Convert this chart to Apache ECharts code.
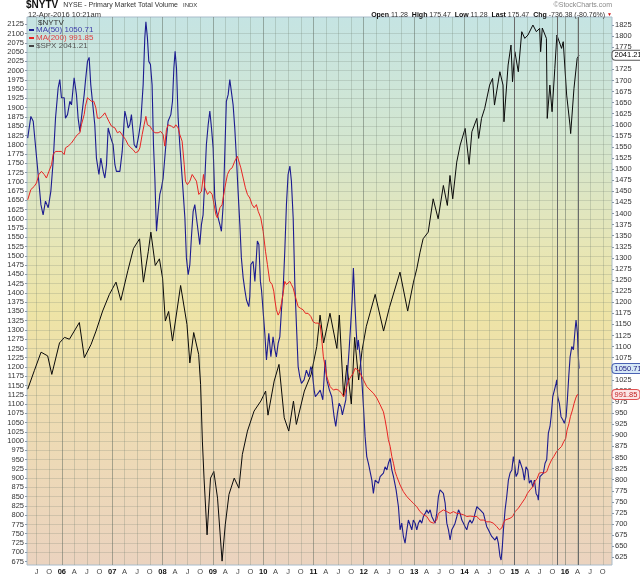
<!DOCTYPE html>
<html><head><meta charset="utf-8">
<script src="https://cdn.jsdelivr.net/npm/echarts@6/dist/echarts.min.js"></script>
<style>html,body{margin:0;padding:0;background:#fff}#c{width:640px;height:576px}</style>
</head><body><div id="c"></div>
<script>
// ---------- DATA ----------
const xMin = '2005-04-23';
const xMax = '2016-12-07';

const xTickDates = ['2005-07-01','2005-10-01',
 '2006-01-01','2006-04-01','2006-07-01','2006-10-01',
 '2007-01-01','2007-04-01','2007-07-01','2007-10-01',
 '2008-01-01','2008-04-01','2008-07-01','2008-10-01',
 '2009-01-01','2009-04-01','2009-07-01','2009-10-01',
 '2010-01-01','2010-04-01','2010-07-01','2010-10-01',
 '2011-01-01','2011-04-01','2011-07-01','2011-10-01',
 '2012-01-01','2012-04-01','2012-07-01','2012-10-01',
 '2013-01-01','2013-04-01','2013-07-01','2013-10-01',
 '2014-01-01','2014-04-01','2014-07-01','2014-10-01',
 '2015-01-01','2015-04-01','2015-07-01','2015-10-01',
 '2016-01-01','2016-04-01','2016-07-01','2016-10-01'];
const xTickLabels = ['J','O',
 '06','A','J','O','07','A','J','O','08','A','J','O','09','A','J','O',
 '10','A','J','O','11','A','J','O','12','A','J','O','13','A','J','O',
 '14','A','J','O','15','A','J','O','16','A','J','O'];

const eventLineDates = ['2014-12-31','2015-11-05','2016-04-06'];

const leftLabelRange = [675, 2125];   // $SPX scale
const rightLabelRange = [625, 1825];  // $NYTV MA scale

const spxData = [
['2005-04-28',1140],['2005-06-15',1190],['2005-08-03',1240],['2005-09-20',1230],['2005-10-20',1180],
['2005-12-15',1265],['2006-01-20',1280],['2006-02-25',1275],['2006-04-01',1297],['2006-05-08',1320],
['2006-06-13',1225],['2006-08-01',1261],['2006-09-06',1297],['2006-10-24',1351],['2006-12-12',1396],
['2007-01-29',1429],['2007-03-05',1380],['2007-04-25',1460],['2007-06-05',1520],['2007-07-19',1546],
['2007-08-16',1429],['2007-09-20',1511],['2007-10-09',1564],['2007-11-10',1474],['2007-12-10',1492],
['2008-01-02',1440],['2008-01-22',1324],['2008-02-15',1350],['2008-03-14',1270],['2008-05-12',1420],
['2008-06-27',1315],['2008-07-18',1211],['2008-08-15',1293],['2008-09-20',1234],['2008-10-04',1153],
['2008-10-17',1000],['2008-10-29',900],['2008-11-20',747],['2008-12-15',900],['2009-01-08',918],
['2009-02-04',846],['2009-03-09',676],['2009-04-01',774],['2009-04-28',856],['2009-06-05',900],
['2009-07-09',873],['2009-08-03',964],['2009-09-09',1027],['2009-10-27',1081],['2009-12-15',1108],
['2010-01-19',1135],['2010-02-05',1070],['2010-03-22',1162],['2010-04-26',1207],['2010-06-03',1063],
['2010-07-06',1027],['2010-08-09',1108],['2010-08-30',1045],['2010-10-27',1135],['2010-12-15',1180],
['2011-01-25',1255],['2011-02-18',1340],['2011-03-16',1265],['2011-05-01',1345],['2011-06-20',1250],
['2011-07-08',1340],['2011-08-08',1120],['2011-09-01',1205],['2011-10-03',1100],['2011-10-27',1280],
['2011-11-25',1165],['2011-12-20',1245],['2012-01-20',1310],['2012-03-24',1396],['2012-05-24',1297],
['2012-07-05',1360],['2012-09-20',1456],['2012-11-15',1351],['2012-12-27',1429],['2013-01-20',1465],
['2013-02-13',1510],['2013-03-07',1546],['2013-04-13',1564],['2013-05-19',1654],['2013-06-24',1600],
['2013-08-01',1690],['2013-08-30',1636],['2013-09-18',1717],['2013-10-08',1654],['2013-11-06',1753],
['2013-12-01',1799],['2014-01-06',1844],['2014-02-04',1747],['2014-02-24',1835],['2014-04-01',1871],
['2014-04-14',1817],['2014-05-05',1871],['2014-05-28',1898],['2014-07-03',1961],['2014-07-24',1979],
['2014-08-07',1907],['2014-09-15',1997],['2014-10-08',1961],['2014-10-15',1862],['2014-11-14',2015],
['2014-12-05',2069],['2014-12-16',1970],['2015-01-02',2051],['2015-01-27',1997],['2015-02-21',2105],
['2015-03-15',2087],['2015-04-07',2096],['2015-05-13',2123],['2015-06-07',2105],['2015-07-01',2114],
['2015-07-08',2051],['2015-07-20',2115],['2015-08-19',2087],['2015-08-25',1871],['2015-09-13',1961],
['2015-09-29',1889],['2015-10-19',2006],['2015-11-03',2096],['2015-12-07',2060],['2015-12-19',2078],
['2016-01-13',1934],['2016-02-06',1853],['2016-02-11',1830],['2016-03-06',1952],['2016-03-29',2033],
['2016-04-12',2041.21]];

const ma50Data = [
['2005-04-28',1570],['2005-05-21',1619],['2005-06-07',1608],['2005-06-23',1555],['2005-07-13',1488],
['2005-08-02',1420],['2005-08-18',1397],['2005-09-04',1428],['2005-09-24',1413],['2005-10-13',1450],
['2005-10-30',1518],['2005-11-16',1615],['2005-12-05',1683],['2005-12-17',1702],['2005-12-29',1661],
['2006-01-18',1661],['2006-01-27',1615],['2006-02-11',1623],['2006-02-28',1653],['2006-03-12',1645],
['2006-03-31',1706],['2006-04-17',1668],['2006-04-29',1615],['2006-05-12',1585],['2006-05-23',1615],
['2006-06-12',1668],['2006-06-21',1698],['2006-07-06',1743],['2006-07-18',1752],['2006-07-30',1690],
['2006-08-11',1690],['2006-08-28',1600],['2006-09-09',1525],['2006-09-27',1488],['2006-10-11',1525],
['2006-10-28',1495],['2006-11-09',1480],['2006-11-21',1510],['2006-12-03',1593],['2006-12-23',1570],
['2007-01-08',1555],['2007-01-21',1510],['2007-02-01',1495],['2007-02-26',1495],['2007-03-15',1540],
['2007-04-03',1631],['2007-04-15',1615],['2007-04-27',1593],['2007-05-09',1600],['2007-05-21',1623],
['2007-06-10',1555],['2007-06-26',1548],['2007-07-14',1578],['2007-07-28',1608],['2007-08-14',1690],
['2007-08-26',1796],['2007-09-03',1832],['2007-09-14',1796],['2007-09-24',1743],['2007-10-06',1736],
['2007-10-18',1690],['2007-10-28',1555],['2007-11-07',1480],['2007-11-14',1405],['2007-11-19',1360],
['2007-12-01',1405],['2007-12-13',1443],['2007-12-25',1458],['2008-01-06',1480],['2008-01-18',1525],
['2008-01-30',1570],['2008-02-11',1608],['2008-03-02',1623],['2008-03-14',1653],['2008-03-24',1728],
['2008-04-02',1766],['2008-04-12',1728],['2008-04-24',1615],['2008-05-06',1555],['2008-05-18',1503],
['2008-05-30',1450],['2008-06-12',1390],['2008-06-23',1300],['2008-07-06',1262],['2008-07-18',1285],
['2008-07-29',1345],['2008-08-11',1405],['2008-08-23',1420],['2008-09-04',1390],['2008-09-16',1360],
['2008-09-28',1330],['2008-10-10',1375],['2008-10-22',1397],['2008-11-04',1480],['2008-11-15',1555],
['2008-11-28',1600],['2008-12-10',1631],['2008-12-22',1593],['2009-01-03',1548],['2009-01-15',1435],
['2009-01-27',1405],['2009-02-08',1405],['2009-02-21',1375],['2009-03-04',1360],['2009-03-17',1420],
['2009-03-29',1540],['2009-04-09',1653],['2009-04-22',1668],['2009-05-04',1702],['2009-05-16',1698],
['2009-05-28',1645],['2009-06-09',1593],['2009-06-21',1525],['2009-07-03',1450],['2009-07-16',1375],
['2009-07-27',1300],['2009-08-09',1255],['2009-08-21',1228],['2009-09-02',1205],['2009-09-19',1190],
['2009-09-26',1213],['2009-10-04',1285],['2009-10-20',1292],['2009-11-02',1247],['2009-11-20',1338],
['2009-12-01',1330],['2009-12-12',1247],['2009-12-20',1228],['2010-01-13',1130],['2010-01-25',1070],
['2010-02-11',1130],['2010-02-26',1077],['2010-03-14',1122],['2010-03-27',1093],['2010-04-07',1077],
['2010-04-20',1108],['2010-05-02',1122],['2010-05-14',1183],['2010-05-26',1228],['2010-06-07',1315],
['2010-06-19',1420],['2010-07-01',1488],['2010-07-14',1507],['2010-07-25',1473],['2010-08-07',1390],
['2010-08-19',1240],['2010-08-30',1153],['2010-09-12',1055],['2010-09-24',1032],['2010-10-06',1017],
['2010-10-25',1025],['2010-11-11',1047],['2010-11-28',1032],['2010-12-13',1055],['2010-12-22',1047],
['2011-01-06',1002],['2011-01-15',987],['2011-02-04',995],['2011-02-19',1002],['2011-03-10',980],
['2011-03-27',1070],['2011-04-08',1025],['2011-04-27',1002],['2011-05-14',987],['2011-05-31',942],
['2011-06-12',920],['2011-06-24',950],['2011-07-06',972],['2011-07-19',965],['2011-07-30',946],
['2011-08-12',942],['2011-08-24',980],['2011-09-05',1040],['2011-09-17',1093],['2011-09-29',1153],
['2011-10-09',1205],['2011-10-18',1277],['2011-10-30',1190],['2011-11-07',1138],['2011-11-16',1093],
['2011-11-23',1115],['2011-12-06',1077],['2011-12-18',1025],['2011-12-30',965],['2012-01-11',897],
['2012-01-23',852],['2012-02-04',837],['2012-02-16',837],['2012-02-29',799],['2012-03-11',769],
['2012-03-24',799],['2012-04-05',799],['2012-04-17',792],['2012-04-29',807],['2012-05-11',807],
['2012-05-23',815],['2012-06-04',829],['2012-06-17',822],['2012-06-28',837],['2012-07-11',848],
['2012-07-23',822],['2012-08-04',807],['2012-08-23',777],['2012-09-09',739],['2012-09-21',687],
['2012-10-03',702],['2012-10-15',672],['2012-10-27',657],['2012-11-09',687],['2012-11-20',709],
['2012-12-03',709],['2012-12-15',687],['2012-12-26',709],['2013-01-08',702],['2013-01-20',687],
['2013-02-01',702],['2013-02-13',709],['2013-02-25',702],['2013-03-09',717],['2013-03-22',724],
['2013-04-03',732],['2013-04-14',724],['2013-04-27',732],['2013-05-09',717],['2013-05-21',717],
['2013-06-02',702],['2013-06-14',724],['2013-06-26',762],['2013-07-08',777],['2013-07-21',777],
['2013-08-01',769],['2013-08-14',747],['2013-08-26',702],['2013-09-07',687],['2013-09-19',664],
['2013-10-01',687],['2013-10-13',694],['2013-10-25',702],['2013-11-07',717],['2013-11-19',732],
['2013-12-01',724],['2013-12-13',709],['2013-12-25',702],['2014-01-06',694],['2014-01-18',687],
['2014-01-30',702],['2014-02-11',709],['2014-02-23',702],['2014-03-07',709],['2014-03-19',724],
['2014-04-01',739],['2014-04-12',739],['2014-04-25',732],['2014-05-07',736],['2014-05-19',724],
['2014-05-31',709],['2014-06-12',694],['2014-06-24',687],['2014-07-06',679],['2014-07-18',672],
['2014-07-30',672],['2014-08-11',664],['2014-08-24',672],['2014-09-04',657],['2014-09-16',627],
['2014-09-24',619],['2014-10-03',649],['2014-10-11',687],['2014-10-23',732],['2014-11-04',762],
['2014-11-16',799],['2014-11-28',815],['2014-12-11',822],['2014-12-22',852],['2014-12-30',837],
['2015-01-11',807],['2015-01-23',815],['2015-02-04',845],['2015-02-16',848],['2015-02-28',822],
['2015-03-12',799],['2015-03-24',829],['2015-04-06',822],['2015-04-17',792],['2015-04-30',799],
['2015-05-12',784],['2015-05-24',799],['2015-06-05',769],['2015-06-17',762],['2015-06-21',754],
['2015-07-03',807],['2015-07-16',807],['2015-07-28',815],['2015-08-09',837],['2015-08-21',845],
['2015-09-02',905],['2015-09-14',920],['2015-09-22',942],['2015-10-04',987],['2015-10-16',1002],
['2015-10-28',1017],['2015-11-02',1025],['2015-11-09',987],['2015-11-21',972],['2015-12-03',942],
['2015-12-16',935],['2015-12-27',927],['2016-01-09',942],['2016-01-18',980],['2016-01-28',1032],
['2016-02-07',1077],['2016-02-19',1100],['2016-03-02',1093],['2016-03-14',1138],['2016-03-21',1160],
['2016-03-31',1130],['2016-04-07',1077],['2016-04-12',1050.71]];

const ma200Data = [
['2005-04-28',1431],['2005-05-21',1454],['2005-06-14',1461],['2005-07-01',1469],['2005-07-18',1488],
['2005-08-06',1495],['2005-08-26',1488],['2005-09-11',1480],['2005-09-29',1495],['2005-10-18',1510],
['2005-10-30',1533],['2005-11-16',1540],['2005-12-05',1540],['2005-12-29',1540],['2006-01-18',1533],
['2006-01-27',1548],['2006-02-16',1552],['2006-03-12',1559],['2006-04-05',1570],['2006-04-24',1578],
['2006-05-12',1582],['2006-05-23',1600],['2006-06-12',1623],['2006-06-21',1642],['2006-07-06',1661],
['2006-07-18',1664],['2006-08-04',1653],['2006-08-21',1653],['2006-09-05',1638],['2006-09-16',1615],
['2006-10-04',1615],['2006-10-20',1619],['2006-11-09',1627],['2006-11-21',1619],['2006-12-08',1608],
['2006-12-27',1597],['2007-01-21',1593],['2007-02-08',1582],['2007-02-26',1585],['2007-03-22',1574],
['2007-04-08',1567],['2007-04-27',1555],['2007-05-17',1548],['2007-06-02',1544],['2007-06-19',1537],
['2007-07-09',1540],['2007-07-21',1548],['2007-08-07',1578],['2007-08-21',1600],['2007-09-03',1619],
['2007-09-14',1600],['2007-10-02',1597],['2007-10-18',1589],['2007-11-07',1582],['2007-12-01',1582],
['2007-12-20',1585],['2008-01-06',1578],['2008-01-18',1552],['2008-01-30',1589],['2008-02-11',1600],
['2008-03-06',1597],['2008-03-24',1593],['2008-04-07',1600],['2008-04-24',1593],['2008-05-06',1578],
['2008-05-23',1563],['2008-06-07',1510],['2008-06-16',1473],['2008-06-30',1465],['2008-07-18',1473],
['2008-08-04',1488],['2008-08-18',1491],['2008-09-04',1473],['2008-09-21',1443],['2008-10-10',1450],
['2008-10-25',1488],['2008-11-04',1458],['2008-11-23',1443],['2008-12-10',1450],['2008-12-27',1443],
['2009-01-10',1420],['2009-01-23',1397],['2009-02-03',1390],['2009-02-21',1413],['2009-03-09',1420],
['2009-03-29',1458],['2009-04-17',1488],['2009-05-04',1499],['2009-05-21',1503],['2009-06-09',1518],
['2009-06-28',1529],['2009-07-08',1529],['2009-07-23',1503],['2009-08-09',1480],['2009-08-25',1458],
['2009-09-09',1443],['2009-09-26',1435],['2009-10-13',1420],['2009-10-28',1413],['2009-11-13',1420],
['2009-11-26',1405],['2009-12-15',1390],['2010-01-01',1360],['2010-01-18',1315],['2010-02-01',1285],
['2010-02-18',1247],['2010-03-07',1240],['2010-03-19',1225],['2010-03-27',1205],['2010-04-07',1183],
['2010-04-20',1171],['2010-05-02',1179],['2010-05-14',1198],['2010-05-26',1220],['2010-06-07',1247],
['2010-06-19',1240],['2010-07-01',1244],['2010-07-14',1247],['2010-07-25',1240],['2010-08-07',1232],
['2010-08-19',1217],['2010-08-30',1213],['2010-09-12',1190],['2010-10-01',1186],['2010-10-18',1183],
['2010-11-04',1175],['2010-11-23',1175],['2010-12-13',1168],['2010-12-30',1156],['2011-01-15',1153],
['2011-02-04',1153],['2011-02-19',1149],['2011-03-03',1115],['2011-03-14',1077],['2011-03-27',1055],
['2011-04-08',1032],['2011-04-20',1021],['2011-05-02',1010],['2011-05-14',1006],['2011-05-26',1002],
['2011-06-14',1004],['2011-07-01',1002],['2011-07-13',999],['2011-07-25',995],['2011-08-07',987],
['2011-08-18',995],['2011-08-30',1010],['2011-09-11',1021],['2011-09-23',1029],['2011-10-05',1032],
['2011-10-17',1040],['2011-10-30',1051],['2011-11-11',1055],['2011-11-23',1047],['2011-12-06',1040],
['2011-12-30',1025],['2012-01-23',1010],['2012-02-16',1002],['2012-03-11',995],['2012-04-05',984],
['2012-04-29',969],['2012-05-23',953],['2012-06-04',935],['2012-06-17',912],['2012-06-28',890],
['2012-07-11',875],['2012-07-23',852],['2012-08-04',837],['2012-08-16',818],['2012-08-28',807],
['2012-09-21',788],['2012-10-15',773],['2012-11-09',762],['2012-12-03',754],['2012-12-26',747],
['2013-01-20',739],['2013-02-13',728],['2013-03-09',721],['2013-04-03',717],['2013-04-27',705],
['2013-05-21',702],['2013-06-02',702],['2013-06-14',709],['2013-06-26',724],['2013-07-08',728],
['2013-08-01',732],['2013-08-26',728],['2013-09-19',724],['2013-10-13',728],['2013-11-07',724],
['2013-12-01',723],['2013-12-25',721],['2014-01-18',717],['2014-02-11',718],['2014-03-07',717],
['2014-04-01',717],['2014-04-25',709],['2014-05-19',709],['2014-06-12',705],['2014-07-06',705],
['2014-07-30',702],['2014-08-24',694],['2014-09-12',687],['2014-09-29',691],['2014-10-11',702],
['2014-10-23',709],['2014-11-04',713],['2014-11-28',713],['2014-12-17',717],['2015-01-04',728],
['2015-01-28',736],['2015-02-21',747],['2015-03-17',758],['2015-04-03',769],['2015-04-22',777],
['2015-05-12',784],['2015-05-28',796],['2015-06-13',803],['2015-06-28',815],['2015-07-16',816],
['2015-08-02',815],['2015-08-21',818],['2015-09-08',833],['2015-09-26',845],['2015-10-11',852],
['2015-10-31',863],['2015-11-18',869],['2015-12-07',875],['2015-12-23',886],['2016-01-06',893],
['2016-01-16',912],['2016-01-30',927],['2016-02-09',942],['2016-02-24',957],['2016-03-07',972],
['2016-03-19',984],['2016-03-28',991],['2016-04-12',991.85]];

// ---------- CHART ----------
const FONT = '"Liberation Sans", Arial, sans-serif';
const toTs = d => { const p = d.split('-').map(Number); return new Date(p[0], p[1]-1, p[2]).getTime(); };
const xTickTs = xTickDates.map(toTs);
const yearTs = xTickDates.filter((d,i) => /^\d/.test(xTickLabels[i])).map(toTs);
const stepValues = (r, step) => { const out = []; for (let v = r[0]; v <= r[1]; v += step) out.push(v); return out; };
const leftTicks = stepValues(leftLabelRange, 25);
const rightTicks = stepValues(rightLabelRange, 25);
const last = arr => arr[arr.length-1][1];
const lastVals = {'MA(50)': last(ma50Data), 'MA(200)': last(ma200Data), '$SPX': last(spxData)};

const chart = echarts.init(document.getElementById('c'), null, {width:640, height:576});

const bgGrad = new echarts.graphic.LinearGradient(0,0,0,1,[
  {offset:0, color:'#c5e4e3'},
  {offset:0.22, color:'#d3e6d0'},
  {offset:0.42, color:'#e7e6b6'},
  {offset:0.54, color:'#eee4a6'},
  {offset:0.72, color:'#eedcb2'},
  {offset:1, color:'#ebd3bf'}
]);

const hiddenX = gi => ({gridIndex:gi, type:'time', min:xMin, max:xMax, show:false});
const tagLabel = (txt, color, bg, border) => ({
  show:true, position:'right', distance:0, formatter: txt,
  fontSize:7.5, fontFamily:FONT, color: color, backgroundColor: bg,
  borderColor: border, borderWidth:1, borderRadius:3, padding:[1,2,0,2]
});

chart.setOption({
  animation:false,
  textStyle:{fontFamily:FONT},
  title:[
    {text:'{a|$NYTV} {b|NYSE - Primary Market Total Volume} {c|INDX}', left:26, top:0, padding:0,
     textStyle:{lineHeight:11, fontWeight:'normal', rich:{a:{fontSize:10, lineHeight:11, fontWeight:'bold', color:'#111', fontFamily:FONT},
                      b:{fontSize:7, lineHeight:11, fontWeight:'normal', color:'#333', fontFamily:FONT},
                      c:{fontSize:6, lineHeight:11, fontWeight:'normal', color:'#333', fontFamily:FONT}}}},
    {text:'12-Apr-2016 10:21am', left:28, top:11, padding:0,
     textStyle:{fontSize:7.5, lineHeight:8, fontWeight:'normal', color:'#333', fontFamily:FONT}},
    {text:'©StockCharts.com', right:28, top:1, padding:0,
     textStyle:{fontSize:7, lineHeight:8, fontWeight:'normal', color:'#888', fontFamily:FONT}},
    {text:'{k|Open} 11.28  {k|High} 175.47  {k|Low} 11.28  {k|Last} 175.47  {k|Chg} -736.38 (-80.76%) {r|▼}',
     right:28, top:11, padding:0,
     textStyle:{fontSize:7, lineHeight:8, fontWeight:'normal', color:'#333', fontFamily:FONT,
       rich:{k:{fontSize:7, lineHeight:8, fontWeight:'bold', color:'#111', fontFamily:FONT},
             r:{fontSize:5, lineHeight:8, color:'#d01010'}}}},
    {text:'$NYTV', left:38, top:19, padding:0,
     textStyle:{fontSize:8, lineHeight:8, fontWeight:'normal', color:'#333', fontFamily:FONT}}
  ],
  legend:{
    left:29, top:26, orient:'vertical', padding:0, itemGap:0, itemWidth:5, itemHeight:2, icon:'rect',
    selectedMode:false,
    textStyle:{fontSize:8, lineHeight:7, fontFamily:FONT, padding:[0,0,0,-3]},
    formatter: n => n + ' ' + lastVals[n],
    data:[{name:'MA(50)', textStyle:{color:'#3a3aa8'}},
          {name:'MA(200)', textStyle:{color:'#e04040'}},
          {name:'$SPX', textStyle:{color:'#555'}}]
  },
  grid:[
    {left:27, right:28, top:17, bottom:11, show:true, backgroundColor:bgGrad, borderColor:'#a9bccb', borderWidth:1},
    {left:27, right:28, top:15.04, bottom:5.24},
    {left:27, right:28, top:13.91, bottom:7.6}
  ],
  xAxis:[
    {gridIndex:0, type:'value', min:toTs(xMin), max:toTs(xMax),
     axisLine:{show:false},
     axisTick:{show:false, customValues:xTickTs},
     splitLine:{show:true, lineStyle:{color:'rgba(110,125,110,0.26)', width:1}},
     axisLabel:{customValues:xTickTs, margin:3, fontSize:7.5, color:'#444', fontFamily:FONT,
       showMinLabel:true, showMaxLabel:true, hideOverlap:false,
       formatter: v => { let i = xTickTs.findIndex(t => Math.abs(t - v) < 86400000*2);
         if (i < 0) return ''; const s = xTickLabels[i]; return /^\d/.test(s) ? '{y|'+s+'}' : s; },
       rich:{y:{fontSize:7.5, fontWeight:'bold', color:'#111', fontFamily:FONT}}}},
    hiddenX(1), hiddenX(2)
  ],
  yAxis:[
    {gridIndex:0, type:'value', min:0, max:1, show:false},
    {gridIndex:1, type:'value', position:'left', min:650, max:2150, interval:25,
     axisLine:{show:false},
     axisTick:{show:true, length:2, customValues:leftTicks, lineStyle:{color:'#8899aa'}},
     axisLabel:{margin:3, fontSize:7.5, color:'#333', fontFamily:FONT,
       formatter: v => (v < leftLabelRange[0] || v > leftLabelRange[1]) ? '' : String(v)},
     splitLine:{show:true, showMinLine:false, showMaxLine:false, lineStyle:{color:'rgba(110,125,110,0.22)', width:1}}},
    {gridIndex:2, type:'value', position:'right', min:600, max:1850, interval:25,
     axisLine:{show:false},
     axisTick:{show:true, length:2, customValues:rightTicks, lineStyle:{color:'#8899aa'}},
     axisLabel:{margin:3, fontSize:7.5, color:'#333', fontFamily:FONT,
       formatter: v => (v < rightLabelRange[0] || v > rightLabelRange[1]) ? '' : String(v)},
     splitLine:{show:false}}
  ],
  series:[
    {type:'line', name:'frame', xAxisIndex:0, yAxisIndex:0, data:[], silent:true,
     markLine:{silent:true, symbol:['none','none'], label:{show:false}, animation:false,
       data:[...yearTs.map(t => ({xAxis:t, lineStyle:{color:'rgba(90,100,90,0.34)', width:1, type:'solid'}})),
             ...eventLineDates.map(d => ({xAxis:toTs(d), lineStyle:{color:'#6a6a6a', width:1, type:'solid'}}))]}},
    {type:'line', name:'$SPX', xAxisIndex:1, yAxisIndex:1, data:spxData, showSymbol:false, symbol:'none',
     lineStyle:{color:'#0a0a0a', width:1}, itemStyle:{color:'#444'}, z:3,
     markPoint:{symbol:'circle', symbolSize:1, itemStyle:{color:'#888'}, silent:true,
       data:[{coord:[xMax, last(spxData)], label:tagLabel(String(last(spxData)),'#000','#ffffff','#555')}]}},
    {type:'line', name:'MA(50)', xAxisIndex:2, yAxisIndex:2, data:ma50Data, showSymbol:false, symbol:'none',
     lineStyle:{color:'#1c1c90', width:1.1}, itemStyle:{color:'#1c1c90'}, z:4,
     markPoint:{symbol:'circle', symbolSize:1, itemStyle:{color:'#1c1c90'}, silent:true,
       data:[{coord:[xMax, last(ma50Data)], label:tagLabel(String(last(ma50Data)),'#1a1a80','#d6e8f6','#4a62b4')}]}},
    {type:'line', name:'MA(200)', xAxisIndex:2, yAxisIndex:2, data:ma200Data, showSymbol:false, symbol:'none',
     lineStyle:{color:'#e82424', width:1}, itemStyle:{color:'#e82424'}, z:4,
     markPoint:{symbol:'circle', symbolSize:1, itemStyle:{color:'#e82424'}, silent:true,
       data:[{coord:[xMax, last(ma200Data)], label:tagLabel(String(last(ma200Data)),'#c02020','#fce4e4','#e05050')}]}}
  ]
});
</script></body></html>
